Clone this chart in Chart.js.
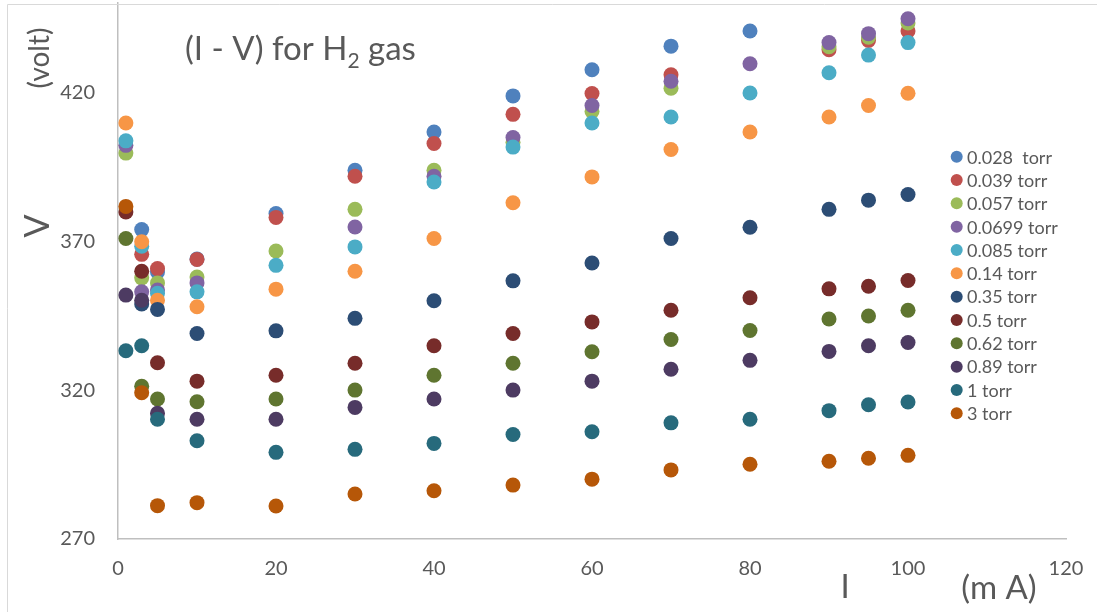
<!DOCTYPE html>
<html>
<head>
<meta charset="utf-8">
<title>(I - V) for H2 gas</title>
<script src="https://cdn.jsdelivr.net/npm/chart.js@4/dist/chart.umd.min.js"></script>
<style>
  html, body { margin: 0; padding: 0; background: #ffffff; }
  #wrap { width: 1097px; height: 612px; }
</style>
</head>
<body>
<div id="wrap"><canvas id="chart" width="1097" height="612"></canvas></div>
<script>
// Discharge current (mA) at which each voltage was measured
const currents = [1, 3, 5, 10, 20, 30, 40, 50, 60, 70, 80, 90, 95, 100];

// Gas pressure of each run
const pressures = ['0.028  torr', '0.039 torr', '0.057 torr', '0.0699 torr', '0.085 torr', '0.14 torr',
                   '0.35 torr', '0.5 torr', '0.62 torr', '0.89 torr', '1 torr', '3 torr'];

// Discharge voltage (V) for each pressure, one value per current
const v0028 = [null, 373.9, 359.7, 364.0, 379.3, 393.8, 406.7, 418.8, 427.6, 435.5, 440.6, null, null, null];
const v0039 = [null, 365.6, 360.8, 363.9, 378.0, 391.8, 402.8, 412.6, 419.6, 425.9, null, 434.3, 437.4, 440.6];
const v0057 = [399.6, 357.7, 356.0, 358.0, 366.7, 380.7, 393.8, 403.2, 413.6, 421.4, null, 435.3, 438.5, 443.3];
const v0699 = [402.2, 353.0, 353.6, 356.0, null, 374.8, 391.8, 404.8, 415.6, 423.7, 429.6, 436.7, 439.7, 444.7];
const v0085 = [403.7, 368.3, 352.5, 353.0, 361.9, 368.1, 389.9, 401.6, 409.7, 411.7, 419.8, 426.6, 432.5, 436.7];
const v014  = [409.7, 369.8, 350.2, 348.0, 353.9, 359.9, 370.9, 382.9, 391.6, 400.8, 406.7, 411.7, 415.6, 419.7];
const v035  = [null, 348.9, 347.1, 339.0, 339.9, 344.1, 350.0, 356.7, 362.7, 370.9, 374.7, 380.7, 383.8, 385.7];
const v05   = [379.8, 359.9, 329.2, 323.0, 325.0, 329.0, 334.9, 339.0, 342.9, 346.8, 351.0, 354.0, 354.9, 356.8];
const v062  = [370.9, 321.3, 317.0, 316.1, 317.0, 320.0, 325.0, 329.0, 332.9, 337.0, 340.0, 343.9, 344.9, 346.8];
const v089  = [351.9, 350.2, 312.2, 310.2, 310.2, 314.2, 317.0, 320.0, 323.0, 327.0, 330.0, 333.0, 334.9, 336.0];
const v1    = [333.2, 334.9, 310.2, 303.0, 299.1, 300.1, 302.1, 305.1, 306.0, 309.0, 310.2, 313.1, 315.1, 316.0];
const v3    = [381.7, 319.1, 281.2, 282.2, 281.1, 285.1, 286.2, 288.1, 290.1, 293.2, 295.1, 296.1, 297.1, 298.1];

// Axis tick labels
const xTicks = [0, 20, 40, 60, 80, 100, 120];
const yTicks = [270, 320, 370, 420];

const voltages = [v0028, v0039, v0057, v0699, v0085, v014, v035, v05, v062, v089, v1, v3];
const colors = ['#4F81BD', '#C0504D', '#9BBB59', '#8064A2', '#4BACC6', '#F79646',
                '#2C4D75', '#772C2A', '#5F7530', '#4D3B62', '#276A7C', '#B65708'];

const FONT = 'Lato, "Open Sans", "Liberation Sans", sans-serif';
const TEXT = '#595959';

const datasets = voltages.map((vals, i) => ({
  label: pressures[i],
  data: currents.map((c, j) => ({ x: c, y: vals[j] })),
  backgroundColor: colors[i],
  borderColor: colors[i],
  borderWidth: 0,
  pointRadius: 7.5,
  pointHoverRadius: 7.5,
  showLine: false,
  order: voltages.length - i   // later runs are painted over earlier ones
}));

// Frame, title, axis captions and the pressure key
const decorations = {
  id: 'decorations',
  afterDraw(chart) {
    const ctx = chart.ctx;
    ctx.save();

    // outer frame
    ctx.strokeStyle = '#D9D9D9';
    ctx.lineWidth = 1;
    ctx.beginPath();
    ctx.moveTo(7.5, 612);
    ctx.lineTo(7.5, 4.5);
    ctx.lineTo(1097, 4.5);
    ctx.stroke();

    ctx.fillStyle = TEXT;

    // title with subscript
    const y0 = 60;
    let x = 185;
    ctx.textAlign = 'left';
    ctx.textBaseline = 'alphabetic';
    ctx.font = '33px ' + FONT;
    const part1 = '(I - V) for H';
    ctx.fillText(part1, x, y0);
    x += ctx.measureText(part1).width;
    ctx.font = '21px ' + FONT;
    ctx.fillText('2', x, y0 + 8);
    x += ctx.measureText('2').width;
    ctx.font = '33px ' + FONT;
    ctx.fillText(' gas', x, y0);

    // y-axis captions
    ctx.textAlign = 'center';
    ctx.textBaseline = 'middle';
    ctx.save();
    ctx.translate(38, 226);
    ctx.rotate(-Math.PI / 2);
    ctx.font = '34px ' + FONT;
    ctx.fillText('V', 0, 0);
    ctx.restore();
    ctx.save();
    ctx.translate(40, 58);
    ctx.rotate(-Math.PI / 2);
    ctx.font = '28px ' + FONT;
    ctx.fillText('(volt)', 0, 0);
    ctx.restore();

    // x-axis captions
    ctx.textBaseline = 'alphabetic';
    ctx.font = '33px ' + FONT;
    ctx.fillText('I', 845, 598);
    ctx.fillText('(m A)', 999, 599);

    // pressure key
    ctx.textAlign = 'left';
    ctx.textBaseline = 'middle';
    ctx.font = '18px ' + FONT;
    chart.data.datasets.forEach((ds, i) => {
      const cy = 156.7 + i * 23.33;
      ctx.fillStyle = ds.backgroundColor;
      ctx.beginPath();
      ctx.arc(956.7, cy, 6, 0, Math.PI * 2);
      ctx.fill();
      ctx.fillStyle = TEXT;
      ctx.fillText(ds.label, 967, cy + 1);
    });

    ctx.restore();
  }
};

// keep tick-label room from pushing the plot area inwards
function clearPadding(scale) {
  scale.paddingTop = 0;
  scale.paddingBottom = 0;
  scale.paddingLeft = 0;
  scale.paddingRight = 0;
}

function build() {
  new Chart(document.getElementById('chart'), {
    type: 'scatter',
    data: { datasets },
    plugins: [decorations],
    options: {
      responsive: false,
      animation: false,
      events: [],
      layout: { autoPadding: false, padding: { left: 0, right: 31, top: 3, bottom: 0 } },
      plugins: {
        legend: { display: false },
        tooltip: { enabled: false },
        title: { display: false }
      },
      scales: {
        x: {
          type: 'linear',
          min: 0,
          max: 120,
          afterBuildTicks(scale) { scale.ticks = xTicks.map(v => ({ value: v })); },
          afterFit(scale) { scale.height = 73; clearPadding(scale); },
          grid: { display: false, drawTicks: false },
          border: { display: true, color: '#BFBFBF', width: 1.5 },
          ticks: { color: TEXT, font: { family: FONT, size: 20 }, padding: 18, maxRotation: 0 }
        },
        y: {
          type: 'linear',
          min: 270,
          max: 450,
          afterBuildTicks(scale) { scale.ticks = yTicks.map(v => ({ value: v })); },
          afterFit(scale) { scale.width = 118; clearPadding(scale); },
          grid: { display: false, drawTicks: false },
          border: { display: true, color: '#BFBFBF', width: 1.5 },
          ticks: { color: TEXT, font: { family: FONT, size: 20 }, padding: 23 }
        }
      }
    }
  });
}

if (document.fonts && document.fonts.load) {
  Promise.all([document.fonts.load('20px Lato'), document.fonts.load('28px Lato')])
    .then(build, build);
} else {
  build();
}
</script>
</body>
</html>
